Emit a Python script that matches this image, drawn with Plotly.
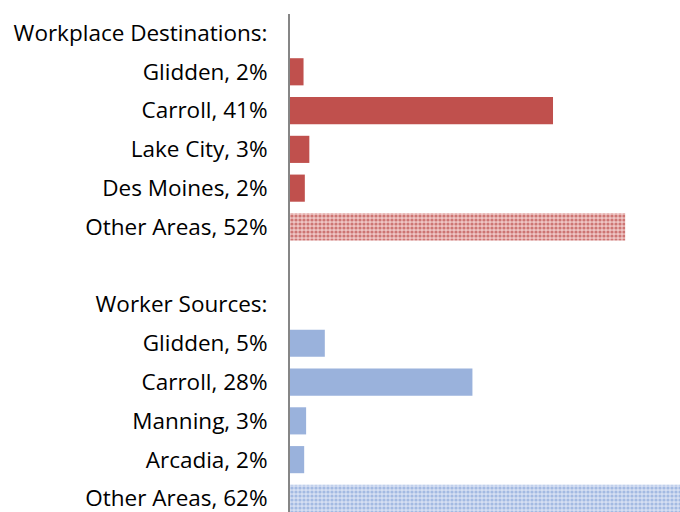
import plotly.graph_objects as go

labels = ["Workplace Destinations:", "Glidden, 2%", "Carroll, 41%", "Lake City, 3%",
          "Des Moines, 2%", "Other Areas, 52%", "", "Worker Sources:", "Glidden, 5%",
          "Carroll, 28%", "Manning, 3%", "Arcadia, 2%", "Other Areas, 62%"]

dest_names = ["Glidden", "Carroll", "Lake City", "Des Moines"]
dest_vals = [2.1, 40.8, 3.0, 2.3]
dest_other = 52.0

src_names = ["Glidden", "Carroll", "Manning", "Arcadia"]
src_vals = [5.4, 28.3, 2.5, 2.2]
src_other = 62.0

RED = "#C0504D"
BLUE = "#9AB2DC"

fig = go.Figure()
fig.add_trace(go.Bar(y=[1, 2, 3, 4], x=dest_vals, orientation="h",
                     marker=dict(color=RED, line_width=0)))
fig.add_trace(go.Bar(y=[5], x=[dest_other], orientation="h",
                     marker=dict(color="#E6ACAB", line_width=0,
                                 pattern=dict(shape=".", fgcolor="#CD7573", bgcolor="#EFC6C5",
                                              size=4, solidity=0.5, fillmode="replace"))))
fig.add_trace(go.Bar(y=[8, 9, 10, 11], x=src_vals, orientation="h",
                     marker=dict(color=BLUE, line_width=0)))
fig.add_trace(go.Bar(y=[12], x=[src_other], orientation="h",
                     marker=dict(color="#C8D5EE", line_width=0,
                                 pattern=dict(shape=".", fgcolor="#A3BAE2", bgcolor="#D6E0F3",
                                              size=4, solidity=0.5, fillmode="replace"))))

fig.update_layout(
    width=680, height=512,
    margin=dict(l=290, r=0, t=14, b=0, autoexpand=False),
    plot_bgcolor="white", paper_bgcolor="white",
    showlegend=False, bargap=0.3, barmode="overlay",
    font=dict(family="Open Sans, Lato, sans-serif", size=22.5, color="#000000"),
)
fig.update_xaxes(range=[0, 60.5], visible=False, fixedrange=True)
fig.update_yaxes(range=[12.35, -0.49], tickvals=list(range(len(labels))), ticktext=labels,
                 showgrid=False, zeroline=False, showline=True, linecolor="#868686",
                 linewidth=2, ticks="", ticklabelstandoff=16, automargin=False,
                 ticklabeloverflow="allow")

fig.write_html("out.html", config={"displayModeBar": False},
               post_script="document.body.style.margin='0';document.body.style.overflow='hidden';")
